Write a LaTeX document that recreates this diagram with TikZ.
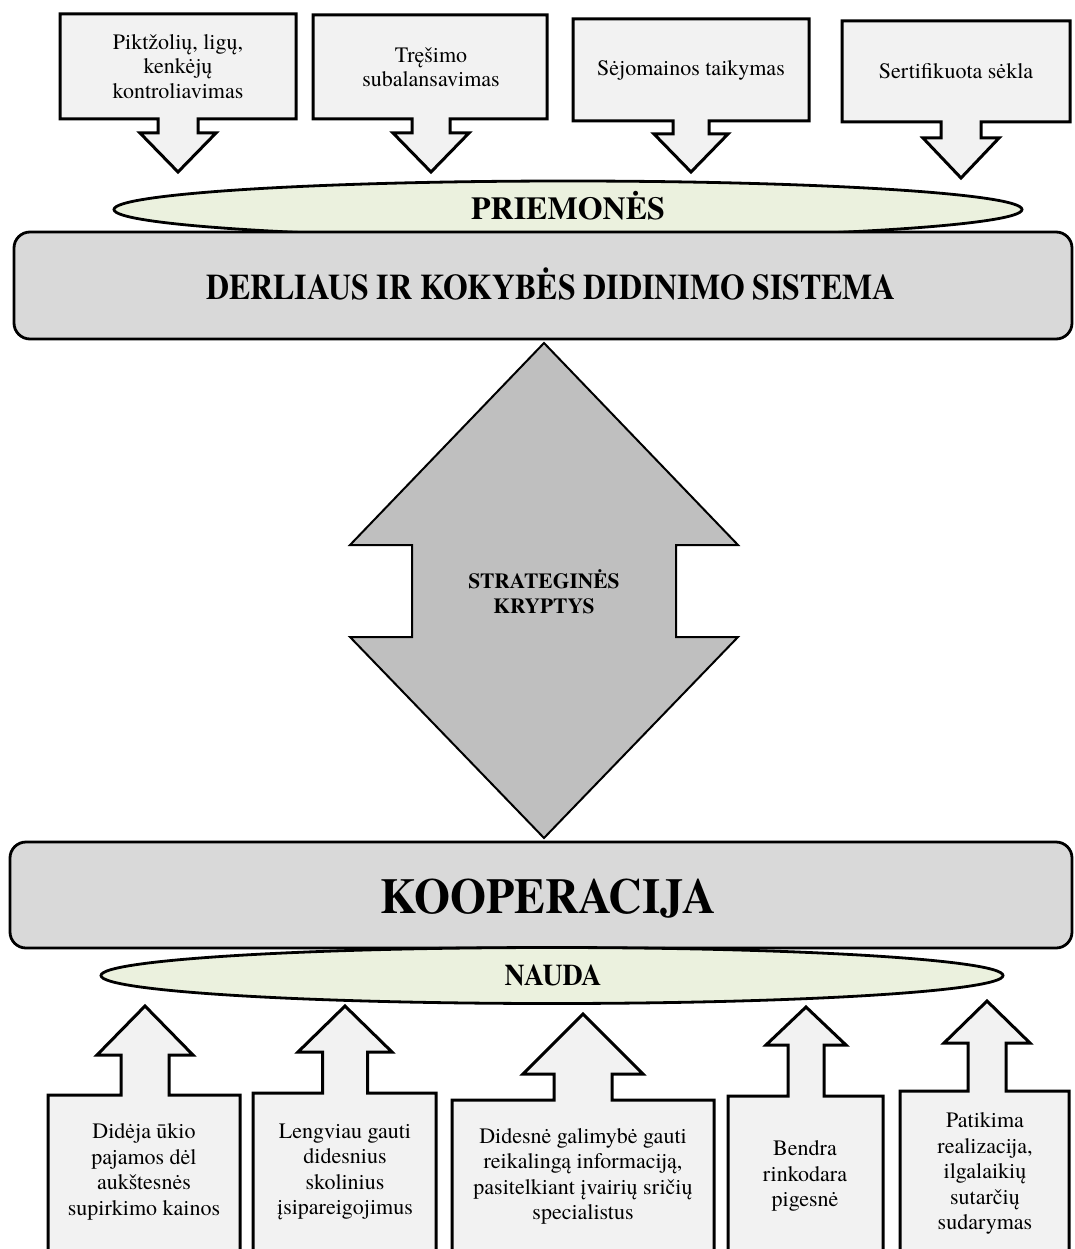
\documentclass[tikz,border=0pt]{standalone}
\usepackage{fontspec}
\usepackage{graphicx}
\setmainfont{TeX Gyre Termes}
\usetikzlibrary{shapes.geometric}
\definecolor{boxfill}{HTML}{F2F2F2}
\definecolor{ellfill}{HTML}{EBF1DE}
\definecolor{bigfill}{HTML}{D9D9D9}
\definecolor{arrfill}{HTML}{BFBFBF}
% down callout: x1,x2,ytop,ybot,c,stem half width,head half width,ystem,ytip
\newcommand\DownCallout[9]{\draw[callout] (#1,#3) -- (#2,#3) -- (#2,#4) -- ({#5+#6},#4) -- ({#5+#6},#8) -- ({#5+#7},#8) -- (#5,#9) -- ({#5-#7},#8) -- ({#5-#6},#8) -- ({#5-#6},#4) -- (#1,#4) -- cycle;}
% up callout: x1,x2,ytop,c,stem half width,head half width,yhead,ytip
\newcommand\UpCallout[8]{\draw[callout] (#1,1265) -- (#1,#3) -- ({#4-#5},#3) -- ({#4-#5},#7) -- ({#4-#6},#7) -- (#4,#8) -- ({#4+#6},#7) -- ({#4+#5},#7) -- ({#4+#5},#3) -- (#2,#3) -- (#2,1265) -- cycle;}
\begin{document}
\begin{tikzpicture}[x=1pt,y=-1pt,
 callout/.style={draw=black, fill=boxfill, line width=3pt},
 bigbox/.style={draw=black, fill=bigfill, line width=2.8pt, rounded corners=16pt, inner sep=0pt, outer sep=0pt},
 oval/.style={ellipse, draw=black, fill=ellfill, line width=2.8pt, inner sep=0pt, outer sep=0pt},
 toptxt/.style={align=center, font=\fontsize{22}{24.5}\selectfont, inner sep=0pt},
 bottxt/.style={align=center, font=\fontsize{22}{25.5}\selectfont, inner sep=0pt},
 title/.style={anchor=base, inner sep=0pt}
]
\useasboundingbox (0,0) rectangle (1074,1249);
\fill[white] (0,0) rectangle (1074,1249);
\clip (0,0) rectangle (1074,1249);

% top callouts
\DownCallout{60}{296}{14}{119}{178}{20}{38}{133}{172}
\DownCallout{313}{547}{15}{119}{431}{19}{38}{133}{172}
\DownCallout{573}{809}{19}{121}{691}{18}{37}{134}{172}
\DownCallout{842}{1070}{21}{122}{961}{20}{38}{138}{178}
\node[toptxt] (t1) at (178,66.5) {Piktžolių, ligų,\\kenkėjų\\kontroliavimas};
\node[toptxt] (t2) at (431,67) {Tręšimo\\subalansavimas};
\node[toptxt] (t3) at (691,70) {Sėjomainos taikymas};
\node[toptxt] (t4) at (956,71.5) {Sertifikuota sėkla};

% PRIEMONES ellipse
\node[oval, minimum width=908pt, minimum height=57pt] (priem) at (568,209.5) {};
\node[title, font=\fontsize{32}{36}\selectfont\bfseries] (priemtxt) at (568,220) {PRIEMONĖS};

% system box
\node[bigbox, minimum width=1058pt, minimum height=107pt] (sys) at (543,285.5) {};
\node[title, font=\fontsize{36}{40}\selectfont\bfseries] (systxt) at (551,299) {\scalebox{0.885}[1]{DERLIAUS IR KOKYBĖS DIDINIMO SISTEMA}};

% double arrow
\draw[draw=black, fill=arrfill, line width=2pt] (544,343) -- (738,545) -- (676,545) -- (676,637) -- (738,637) -- (544,838) -- (350,637) -- (412,637) -- (412,545) -- (350,545) -- cycle;
\node[title, font=\fontsize{21.5}{25}\selectfont\bfseries] (str1) at (544,588) {STRATEGINĖS};
\node[title, font=\fontsize{21.5}{25}\selectfont\bfseries] (str2) at (544,613) {KRYPTYS};

% cooperation box
\node[bigbox, minimum width=1062pt, minimum height=106pt] (koop) at (541,895) {};
\node[title, font=\fontsize{50}{54}\selectfont\bfseries] (kooptxt) at (548,913) {\scalebox{0.927}[1]{KOOPERACIJA}};

% NAUDA ellipse
\node[oval, minimum width=902pt, minimum height=56pt] (nauda) at (552,975.5) {};
\node[title, font=\fontsize{30}{34}\selectfont\bfseries] (naudatxt) at (553,985.5) {\scalebox{0.93}[1]{NAUDA}};

% bottom callouts
\UpCallout{48}{240}{1095}{145}{24}{48}{1055}{1006}
\UpCallout{253}{436}{1093}{345}{22.5}{47}{1052}{1006}
\UpCallout{452}{714}{1100}{583}{29}{60}{1074}{1014}
\UpCallout{728}{883}{1096}{806}{18}{40}{1045}{1007}
\UpCallout{900}{1069}{1091}{987}{19}{43}{1043}{1001}
\node[bottxt] (b1) at (144,1172) {Didėja ūkio\\pajamos dėl\\aukštesnės\\supirkimo kainos};
\node[bottxt] (b2) at (345,1172) {Lengviau gauti\\didesnius\\skolinius\\įsipareigojimus};
\node[bottxt] (b3) at (583,1176.5) {Didesnė galimybė gauti\\reikalingą informaciją,\\pasitelkiant įvairių sričių\\specialistus};
\node[bottxt] (b4) at (805,1176) {Bendra\\rinkodara\\pigesnė};
\node[bottxt] (b5) at (985,1173.5) {Patikima\\realizacija,\\ilgalaikių\\sutarčių\\sudarymas};
\end{tikzpicture}
\end{document}
